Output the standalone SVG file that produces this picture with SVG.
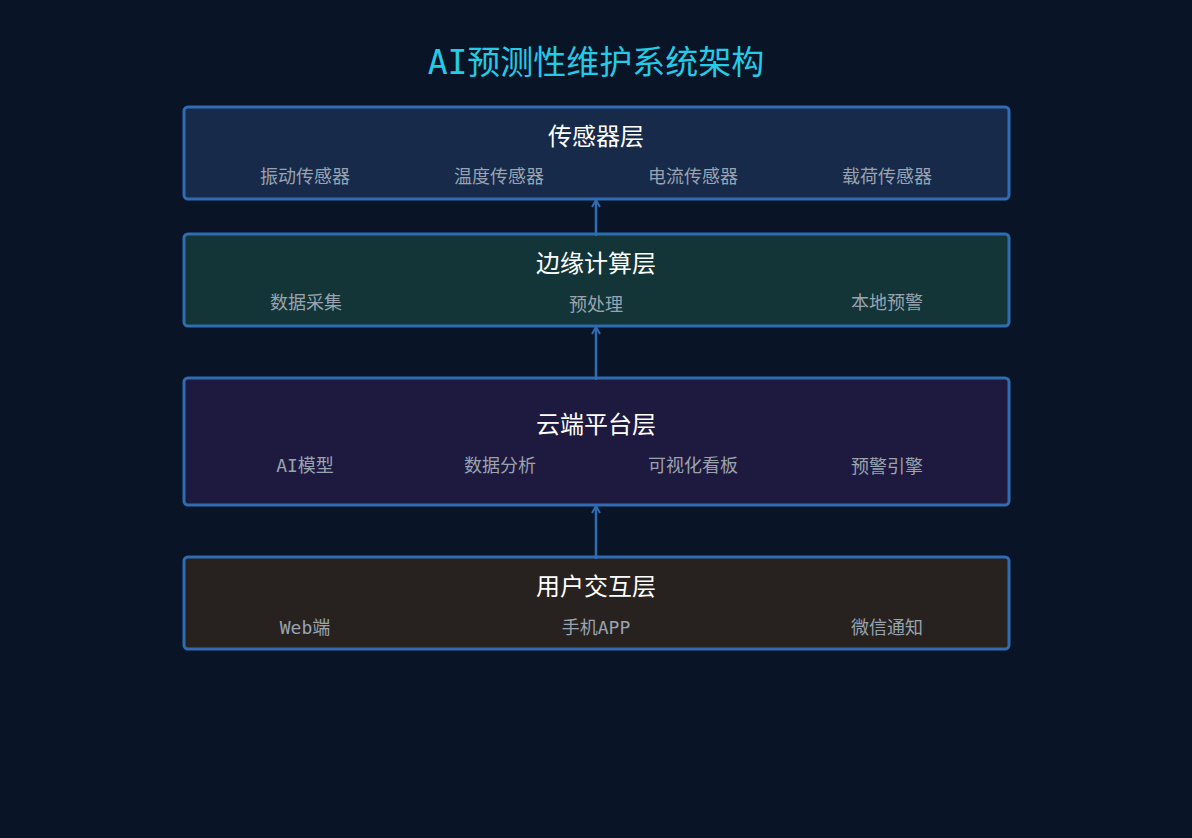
<svg xmlns="http://www.w3.org/2000/svg" width="1192" height="838" viewBox="0 0 1192 838">
<defs>
<style>
.box{stroke:#2f6cb2;stroke-width:3}
.t{font-family:"DejaVu Sans Mono","Noto Sans CJK SC",monospace;text-anchor:middle}
.h{font-size:24px;fill:#ffffff}
.i{font-size:18px;fill:#9aa3b0}
.c{stroke:#2f6cb2;stroke-width:2.5;fill:none}
</style>
<marker id="ah" viewBox="0 0 10 10" refX="9" refY="5" markerWidth="10" markerHeight="10" markerUnits="userSpaceOnUse" orient="auto">
<path d="M2 1 L9 5 L2 9" fill="none" stroke="#2f6cb2" stroke-width="2"/>
</marker>
</defs>
<rect width="1192" height="838" fill="#0a1427"/>
<text class="t" x="596" y="74" font-size="33" fill="#22cbe6">AI预测性维护系统架构</text>
<g id="sensor">
<rect class="box" x="184" y="107" width="825" height="92" rx="4" fill="#172a4a"/>
<text class="t h" x="596" y="145">传感器层</text>
<text class="t i" x="305" y="183">振动传感器</text>
<text class="t i" x="499" y="183">温度传感器</text>
<text class="t i" x="693" y="183">电流传感器</text>
<text class="t i" x="887" y="183">载荷传感器</text>
</g>
<g id="edge">
<rect class="box" x="184" y="234" width="825" height="92" rx="4" fill="#133537"/>
<text class="t h" x="596" y="272">边缘计算层</text>
<text class="t i" x="306" y="309">数据采集</text>
<text class="t i" x="596" y="311">预处理</text>
<text class="t i" x="887" y="309">本地预警</text>
</g>
<g id="cloud">
<rect class="box" x="184" y="378" width="825" height="127" rx="4" fill="#1e1a3f"/>
<text class="t h" x="596" y="433">云端平台层</text>
<text class="t i" x="305" y="472">AI模型</text>
<text class="t i" x="500" y="472">数据分析</text>
<text class="t i" x="693" y="472">可视化看板</text>
<text class="t i" x="887" y="473">预警引擎</text>
</g>
<g id="user">
<rect class="box" x="184" y="557" width="825" height="92" rx="4" fill="#272220"/>
<text class="t h" x="596" y="595">用户交互层</text>
<text class="t i" x="305" y="634">Web端</text>
<text class="t i" x="596" y="634">手机APP</text>
<text class="t i" x="887" y="634">微信通知</text>
</g>
<g id="connectors">
<line class="c" x1="596" y1="236" x2="596" y2="200" marker-end="url(#ah)"/>
<line class="c" x1="596" y1="380" x2="596" y2="327" marker-end="url(#ah)"/>
<line class="c" x1="596" y1="559" x2="596" y2="506" marker-end="url(#ah)"/>
</g>
</svg>
